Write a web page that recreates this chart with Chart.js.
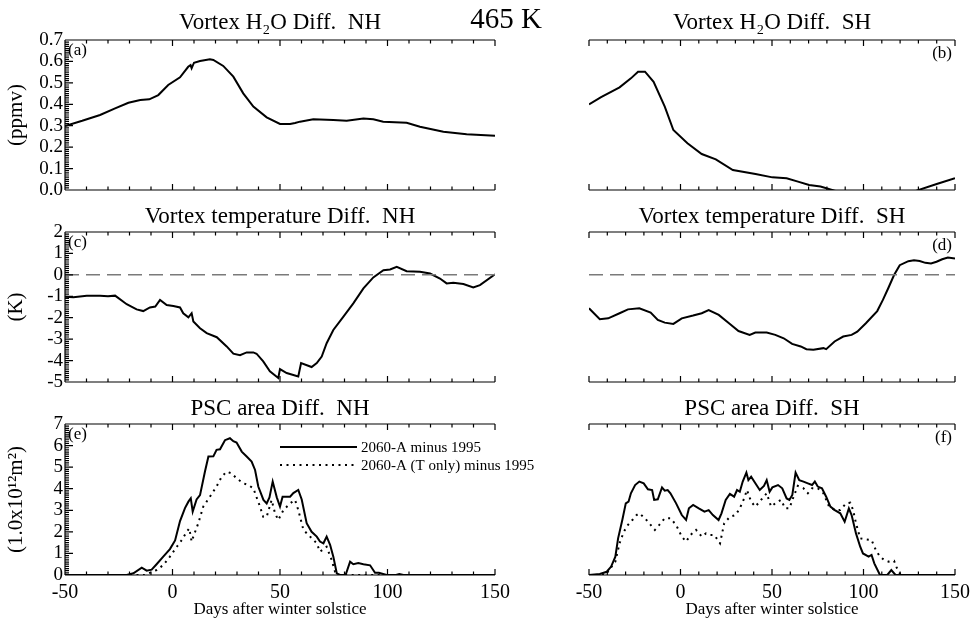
<!DOCTYPE html>
<html>
<head>
<meta charset="utf-8">
<script src="https://cdn.jsdelivr.net/npm/chart.js@4.4.1/dist/chart.umd.min.js"></script>
<style>
  html, body { margin: 0; padding: 0; background: #fff; overflow: hidden; }
  #page { position: relative; width: 971px; height: 623px; overflow: hidden; }
  canvas { position: absolute; }
  #level { position: absolute; left: 436px; top: 2px; width: 140px; text-align: center;
           font-family: "Liberation Serif", "Times New Roman", serif; font-size: 29px; color: #000; }
</style>
</head>
<body>
<div id="page">
  <canvas id="pa" width="560" height="205" style="left:0px;top:0px"></canvas>
  <canvas id="pb" width="491" height="205" style="left:494px;top:0px"></canvas>
  <canvas id="pc" width="560" height="205" style="left:0px;top:200px"></canvas>
  <canvas id="pd" width="491" height="205" style="left:494px;top:200px"></canvas>
  <canvas id="pe" width="560" height="233" style="left:0px;top:390px"></canvas>
  <canvas id="pf" width="491" height="233" style="left:494px;top:390px"></canvas>
  <div id="level">465 K</div>
</div>
<script>
// ---- data (days after winter solstice) ----

// (a) vortex H2O difference, NH (ppmv)
const nhH2oDays = [-50, -42, -33.7, -26.7, -20.5, -15, -10.8, -6.6, -2, 3.5, 7.3, 8.4, 8.9, 10, 12.8, 17.4, 19, 23.6, 28.3, 32.9, 37.6, 43.8, 50, 54.7, 57, 59.3, 65.5, 74.8, 81, 88.8, 93.4, 98, 108.9, 115.1, 126, 136.8, 150];
const nhH2oVals = [0.299, 0.323, 0.35, 0.381, 0.407, 0.42, 0.423, 0.443, 0.49, 0.526, 0.575, 0.583, 0.568, 0.594, 0.602, 0.61, 0.607, 0.579, 0.529, 0.451, 0.389, 0.339, 0.308, 0.308, 0.313, 0.319, 0.33, 0.327, 0.323, 0.334, 0.33, 0.319, 0.314, 0.295, 0.272, 0.26, 0.253];

// (b) vortex H2O difference, SH (ppmv)
const shH2oDays = [-50, -43.4, -33.3, -27.1, -23.2, -19.4, -14.7, -8.6, -3.9, 3.8, 11.6, 19.3, 28.6, 41, 50.2, 58, 64.2, 70.3, 76.5, 84.2, 95, 110, 120, 129, 140, 150];
const shH2oVals = [0.4, 0.433, 0.479, 0.521, 0.552, 0.552, 0.505, 0.389, 0.28, 0.218, 0.168, 0.143, 0.093, 0.075, 0.059, 0.055, 0.039, 0.023, 0.016, -0.003, -0.03, -0.045, -0.03, -0.003, 0.028, 0.055];

// (c) vortex temperature difference, NH (K)
const nhTempDays = [-50, -46.1, -39.9, -33.7, -30, -26.7, -21.3, -16.7, -13.6, -10.5, -8, -5.8, -2.7, 0.4, 3.5, 5, 7.4, 8.9, 9.7, 12.8, 15.9, 20.6, 25.2, 28.3, 31.4, 34.5, 37.6, 39.1, 42.2, 45.3, 49.2, 50, 53.1, 58.5, 59.8, 64.7, 67.1, 69.4, 71.7, 74.8, 79.5, 84.1, 88.8, 93.4, 98.1, 101.2, 104.3, 108.9, 115.1, 119.8, 124.4, 127.5, 130.6, 135.3, 139.9, 143, 150];
const nhTempVals = [-1.02, -1.05, -0.98, -0.97, -1.0, -0.97, -1.37, -1.61, -1.69, -1.52, -1.48, -1.17, -1.41, -1.45, -1.52, -1.79, -1.98, -1.79, -2.18, -2.49, -2.72, -2.91, -3.34, -3.68, -3.75, -3.62, -3.62, -3.68, -4.04, -4.5, -4.81, -4.4, -4.58, -4.74, -4.12, -4.3, -4.12, -3.81, -3.19, -2.57, -1.95, -1.33, -0.63, -0.12, 0.22, 0.25, 0.37, 0.17, 0.14, 0.06, -0.17, -0.4, -0.37, -0.43, -0.59, -0.48, 0.03];

// (d) vortex temperature difference, SH (K)
const shTempDays = [-50, -44.1, -39.5, -33.3, -28.7, -22.5, -16.3, -12.4, -8.6, -3.9, 0.7, 6.9, 11.6, 15.4, 20.9, 27, 31.7, 37.8, 40.9, 47.1, 51.8, 56.4, 61, 65.7, 68.8, 72.6, 78.1, 79.6, 84.2, 88.9, 93.5, 96.6, 101.3, 107.5, 110.6, 113.7, 116.7, 119.8, 124.5, 127.6, 130.7, 133.8, 136.9, 139.9, 143, 146.1, 150];
const shTempVals = [-1.56, -2.07, -2.03, -1.79, -1.61, -1.56, -1.76, -2.1, -2.23, -2.29, -2.03, -1.9, -1.79, -1.64, -1.87, -2.29, -2.62, -2.8, -2.69, -2.69, -2.8, -2.96, -3.22, -3.34, -3.47, -3.5, -3.42, -3.47, -3.11, -2.88, -2.8, -2.65, -2.26, -1.69, -1.17, -0.59, -0.01, 0.45, 0.64, 0.68, 0.65, 0.56, 0.53, 0.61, 0.73, 0.81, 0.76];

// zero reference line for the temperature panels
const zeroDays = [-50, 150];
const zeroVals = [0, 0];

// (e) PSC area difference, NH (1.0x10^12 m^2)
const nhPscDays = [-50, -21.3, -18.2, -14.3, -12, -9.7, -7.4, -4.3, -1.2, 1.2, 3.5, 5.8, 7.4, 8.5, 9.4, 11.2, 12.8, 15.1, 16.7, 19, 20.5, 22.1, 24.4, 26.7, 28.3, 29.8, 32.2, 34.5, 36.8, 38.4, 39.9, 42.3, 43.8, 45.1, 46.6, 48.5, 50, 51.2, 54.7, 56.2, 58.5, 60.1, 62.4, 64.7, 67.1, 68.6, 70.2, 71.7, 73.3, 74.8, 76.4, 77.9, 80.5, 82.6, 84.1, 86.4, 88.8, 91.9, 94.2, 96, 99.6, 104, 105.5, 107.4, 150];
const nhPscVals = [0, 0, 0.08, 0.34, 0.2, 0.25, 0.5, 0.85, 1.2, 1.6, 2.5, 3.1, 3.4, 3.55, 2.94, 3.5, 3.7, 4.8, 5.49, 5.5, 5.8, 5.83, 6.25, 6.34, 6.2, 6.14, 5.72, 5.49, 5.26, 4.87, 4.1, 3.48, 3.32, 3.6, 4.33, 3.6, 3.17, 3.63, 3.63, 3.8, 3.94, 3.5, 2.4, 2.0, 1.78, 1.55, 1.47, 1.78, 1.4, 0.85, 0.08, 0, 0, 0.62, 0.5, 0.55, 0.5, 0.45, 0.1, 0.1, 0, 0, 0.05, 0, 0];
const nhPscTDays = [-50, -13, -7.4, -4.3, -1.2, 2, 4.3, 6.6, 7.8, 8.9, 9.7, 12, 14.3, 17.4, 20.5, 22.9, 25.2, 27.5, 29.8, 33, 35.3, 37.6, 40.7, 42.2, 43.8, 46.1, 47.7, 49.2, 51.6, 54.7, 57, 58.5, 60.9, 64, 67.1, 68.6, 71.7, 74, 75.6, 77.1, 150];
const nhPscTVals = [0, 0, 0.23, 0.46, 0.85, 1.31, 1.62, 2.0, 2.16, 1.55, 1.78, 2.4, 3.17, 3.63, 4.1, 4.56, 4.79, 4.71, 4.48, 4.25, 4.17, 4.02, 3.17, 2.7, 2.7, 3.48, 2.86, 2.55, 3.01, 3.32, 3.48, 3.01, 2.09, 1.78, 1.47, 1.08, 1.31, 0.7, 0.15, 0, 0];

// (f) PSC area difference, SH (1.0x10^12 m^2)
const shPscDays = [-50, -44.1, -40.3, -37.9, -35.6, -34.1, -31.8, -29.9, -28.4, -27.1, -24.8, -22.5, -20.1, -17.8, -15.5, -14.4, -12.4, -10.1, -8.6, -7, -5.5, -2.4, 0.7, 3.05, 4.6, 6.9, 10, 13.1, 15.4, 17.7, 20.8, 22.4, 24.7, 27, 29.3, 30.9, 32.4, 34, 36, 37.1, 38.6, 40.9, 43.3, 45.6, 47.1, 48.7, 50.2, 53.3, 55.6, 58, 59.5, 61.1, 62.9, 64.9, 67.2, 69.6, 71.9, 73.4, 75, 77.3, 79.6, 81.9, 84.3, 87.3, 89.7, 92, 93.5, 95.9, 98.2, 99.7, 102.8, 104.4, 105.9, 109, 113, 115.2, 117.5, 150];
const shPscVals = [0, 0.05, 0.15, 0.39, 0.85, 1.7, 2.55, 3.32, 3.4, 3.79, 4.17, 4.33, 4.25, 3.97, 3.94, 3.48, 3.51, 4.06, 3.91, 3.94, 3.79, 3.32, 2.78, 2.55, 3.09, 3.25, 3.09, 2.94, 3.01, 2.78, 2.55, 2.86, 3.48, 3.76, 3.63, 3.94, 3.86, 4.33, 4.75, 4.4, 4.56, 4.25, 3.94, 4.13, 4.4, 3.86, 4.06, 4.17, 4.02, 3.55, 3.48, 3.71, 4.75, 4.4, 4.33, 4.25, 4.17, 4.33, 4.1, 4.02, 3.63, 3.17, 3.01, 2.86, 2.47, 3.09, 2.78, 1.93, 1.31, 1.0, 0.85, 0.93, 0.54, 0, 0, 0.23, 0, 0];
const shPscTDays = [-50, -41, -35.6, -33.3, -31, -28.7, -26.3, -24, -22.5, -19.4, -16.3, -14, -11.6, -8.6, -5.5, -2.4, 0.7, 3.05, 5.4, 8.5, 11.6, 13.9, 16.2, 18.5, 21.6, 23.9, 27, 30.1, 32.4, 34.8, 36.3, 38.6, 40.9, 44, 47.1, 49.5, 51.8, 54.9, 57.2, 59.5, 61.8, 64.1, 67.2, 69.6, 71.9, 75, 78.1, 81.2, 84.3, 87.3, 90.5, 92.8, 94.3, 95.9, 98.2, 101.3, 104.4, 106.7, 109, 111.3, 113.7, 116.7, 118.3, 119.8, 121.4, 150];
const shPscTVals = [0, 0, 0.62, 1.47, 2.0, 2.32, 2.55, 2.78, 2.86, 2.63, 2.32, 2.09, 2.32, 2.63, 2.63, 2.32, 1.78, 1.55, 1.85, 2.09, 1.78, 1.93, 1.85, 1.85, 1.47, 2.4, 2.7, 2.78, 3.09, 3.55, 3.94, 3.4, 3.17, 3.48, 3.79, 3.17, 3.32, 3.48, 3.09, 3.09, 3.63, 4.13, 4.02, 3.79, 4.02, 4.02, 3.79, 3.17, 3.01, 3.01, 3.32, 3.35, 3.01, 2.4, 1.7, 1.65, 1.62, 1.16, 0.85, 0.7, 0.62, 0.66, 0.31, 0.08, 0, 0];

// x axis ticks
const dayMin = -50, dayMax = 150, dayStep = 50;

const FONT = '"Liberation Serif", "Times New Roman", serif';
Chart.defaults.font.family = FONT;
Chart.defaults.color = '#000';
Chart.defaults.animation = false;

function pts(days, vals) {
    return days.map((d, i) => ({ x: d, y: vals[i] }));
}

function solid(label, days, vals) {
    return { label: label, data: pts(days, vals), borderColor: '#000', borderWidth: 2, pointRadius: 0, tension: 0 };
}

function dotted(label, days, vals) {
    return { label: label, data: pts(days, vals), borderColor: '#000', borderWidth: 2, borderDash: [2, 4.5], pointRadius: 0, tension: 0 };
}

function zeroLine() {
    return { label: '', data: pts(zeroDays, zeroVals), borderColor: '#7a7a7a', borderWidth: 1.5, borderDash: [14, 7], pointRadius: 0 };
}

// IDL-style box axes: inward ticks on top and bottom, optional left axis with dense minor ticks
const idlAxes = {
    id: 'idlAxes',
    afterDatasetsDraw(chart, args, o) {
        const { ctx, chartArea: a, scales: { x, y } } = chart;
        ctx.save();
        ctx.strokeStyle = '#000';
        ctx.lineWidth = 1.2;
        ctx.beginPath();
        ctx.moveTo(a.left, a.top); ctx.lineTo(a.right, a.top);
        ctx.moveTo(a.left, a.bottom); ctx.lineTo(a.right, a.bottom);
        for (let d = x.min; d <= x.max + 1e-6; d += 10) {
            const px = x.getPixelForValue(d);
            const len = Math.abs(d % dayStep) < 1e-6 ? 6 : 3.5;
            ctx.moveTo(px, a.top); ctx.lineTo(px, a.top + len);
            ctx.moveTo(px, a.bottom); ctx.lineTo(px, a.bottom - len);
        }
        if (o.left) {
            ctx.moveTo(a.left, a.top); ctx.lineTo(a.left, a.bottom);
            const n = Math.round((y.max - y.min) / o.minorY);
            for (let i = 0; i <= n; i++) {
                const py = y.getPixelForValue(y.min + i * o.minorY);
                const len = i % o.majorEvery === 0 ? 8 : 4;
                ctx.moveTo(a.left, py); ctx.lineTo(a.left + len, py);
            }
        }
        ctx.stroke();
        ctx.restore();
    }
};

// panel letter in a corner of the plot area
const panelTag = {
    id: 'panelTag',
    afterDraw(chart, args, o) {
        if (!o.text) return;
        const { ctx, chartArea: a } = chart;
        ctx.save();
        ctx.font = '17px ' + FONT;
        ctx.fillStyle = '#000';
        ctx.textBaseline = 'middle';
        if (o.side === 'right') {
            ctx.textAlign = 'right';
            ctx.fillText(o.text, a.right - 3, a.top + 14);
        } else {
            ctx.textAlign = 'left';
            ctx.fillText(o.text, a.left + 3, a.top + 11);
        }
        ctx.restore();
    }
};

// line-sample legend drawn from the labelled datasets
const lineKey = {
    id: 'lineKey',
    afterDraw(chart, args, o) {
        if (!o.show) return;
        const { ctx, chartArea: a } = chart;
        const items = chart.data.datasets.filter(ds => ds.label);
        ctx.save();
        ctx.font = '15px ' + FONT;
        ctx.fillStyle = '#000';
        ctx.textBaseline = 'middle';
        items.forEach((ds, i) => {
            const y = a.top + 23 + i * 18;
            const x0 = a.left + 215;
            ctx.strokeStyle = ds.borderColor;
            ctx.lineWidth = ds.borderWidth;
            ctx.setLineDash(ds.borderDash || []);
            ctx.beginPath();
            ctx.moveTo(x0, y); ctx.lineTo(x0 + 77, y);
            ctx.stroke();
            ctx.fillText(ds.label, x0 + 81, y + 1);
        });
        ctx.restore();
    }
};

function makePanel(id, cfg) {
    const leftSide = cfg.side === 'left';
    const yScale = {
        type: 'linear',
        min: cfg.yMin,
        max: cfg.yMax,
        display: leftSide,
        grid: { display: false, drawTicks: false },
        border: { display: false },
        ticks: {
            stepSize: cfg.yStep,
            autoSkip: false,
            padding: 2,
            font: { size: 19, lineHeight: 1 },
            callback: v => v.toFixed(cfg.yDec)
        },
        title: {
            display: leftSide,
            text: cfg.yTitle,
            font: { size: 21 },
            padding: { top: 4, bottom: 0 }
        },
        afterFit: s => { s.width = 65; }
    };
    const xScale = {
        type: 'linear',
        min: dayMin,
        max: dayMax,
        grid: { display: false, drawTicks: false },
        border: { display: false },
        ticks: {
            display: cfg.xLabels,
            stepSize: dayStep,
            autoSkip: false,
            maxRotation: 0,
            padding: 6,
            font: { size: 20 }
        },
        title: {
            display: cfg.xLabels,
            text: 'Days after winter solstice',
            font: { size: 17 },
            padding: { top: 0, bottom: 3 }
        },
        afterFit: s => { s.height = cfg.xHeight; }
    };
    return new Chart(document.getElementById(id), {
        type: 'line',
        data: { datasets: cfg.datasets },
        options: {
            responsive: false,
            devicePixelRatio: 1,
            layout: { padding: leftSide ? { left: 0, right: 65, top: 0, bottom: 0 } : { left: 30, right: 30, top: 0, bottom: 0 } },
            scales: { x: xScale, y: yScale },
            plugins: {
                legend: { display: false },
                tooltip: { enabled: false },
                title: {
                    display: true,
                    text: cfg.title,
                    fullSize: false,
                    font: { size: 23, weight: 'normal', lineHeight: 1 },
                    padding: cfg.titlePad
                },
                idlAxes: { left: leftSide, minorY: cfg.yMinor, majorEvery: cfg.yMajorEvery },
                panelTag: { text: cfg.tag, side: cfg.side },
                lineKey: { show: !!cfg.key }
            }
        },
        plugins: [idlAxes, panelTag, lineKey]
    });
}

const rowPad = [{ top: 11, bottom: 6 }, { top: 5.5, bottom: 3.5 }, { top: 7.5, bottom: 3.5 }];

makePanel('pa', {
    side: 'left', title: 'Vortex H\u2082O Diff.  NH', tag: '(a)', titlePad: rowPad[0],
    yMin: 0, yMax: 0.7, yStep: 0.1, yDec: 1, yMinor: 0.01, yMajorEvery: 10, yTitle: '(ppmv)',
    xLabels: false, xHeight: 15,
    datasets: [solid('', nhH2oDays, nhH2oVals)]
});
makePanel('pb', {
    side: 'right', title: 'Vortex H\u2082O Diff.  SH', tag: '(b)', titlePad: rowPad[0],
    yMin: 0, yMax: 0.7, yStep: 0.1, yDec: 1, yMinor: 0.01, yMajorEvery: 10,
    xLabels: false, xHeight: 15,
    datasets: [solid('', shH2oDays, shH2oVals)]
});
makePanel('pc', {
    side: 'left', title: 'Vortex temperature Diff.  NH', tag: '(c)', titlePad: rowPad[1],
    yMin: -5, yMax: 2, yStep: 1, yDec: 0, yMinor: 0.1, yMajorEvery: 10, yTitle: '(K)',
    xLabels: false, xHeight: 23,
    datasets: [zeroLine(), solid('', nhTempDays, nhTempVals)]
});
makePanel('pd', {
    side: 'right', title: 'Vortex temperature Diff.  SH', tag: '(d)', titlePad: rowPad[1],
    yMin: -5, yMax: 2, yStep: 1, yDec: 0, yMinor: 0.1, yMajorEvery: 10,
    xLabels: false, xHeight: 23,
    datasets: [zeroLine(), solid('', shTempDays, shTempVals)]
});
makePanel('pe', {
    side: 'left', title: 'PSC area Diff.  NH', tag: '(e)', titlePad: rowPad[2],
    yMin: 0, yMax: 7, yStep: 1, yDec: 0, yMinor: 0.1, yMajorEvery: 10, yTitle: '(1.0x10\u00b9\u00b2m\u00b2)',
    xLabels: true, xHeight: 48, key: true,
    datasets: [solid('2060-A minus 1995', nhPscDays, nhPscVals), dotted('2060-A (T only) minus 1995', nhPscTDays, nhPscTVals)]
});
makePanel('pf', {
    side: 'right', title: 'PSC area Diff.  SH', tag: '(f)', titlePad: rowPad[2],
    yMin: 0, yMax: 7, yStep: 1, yDec: 0, yMinor: 0.1, yMajorEvery: 10,
    xLabels: true, xHeight: 48,
    datasets: [solid('', shPscDays, shPscVals), dotted('', shPscTDays, shPscTVals)]
});
</script>
</body>
</html>
